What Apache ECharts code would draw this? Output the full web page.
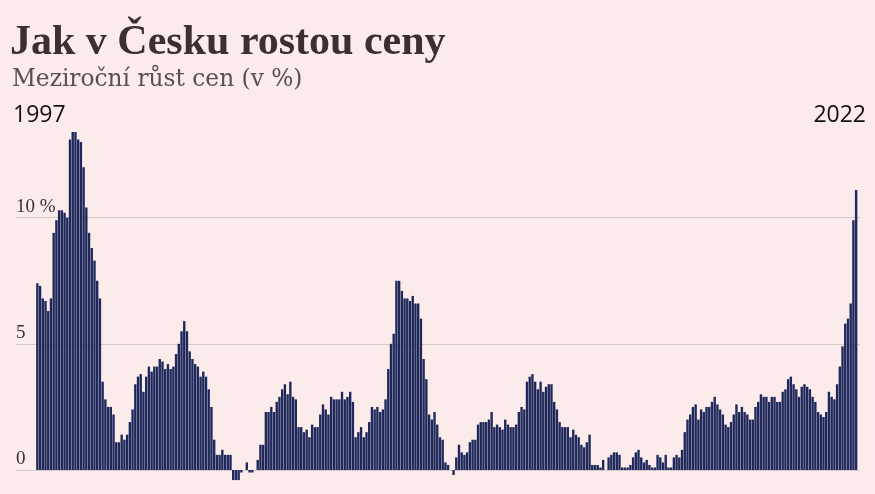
<!DOCTYPE html>
<html>
<head>
<meta charset="utf-8">
<script src="https://cdn.jsdelivr.net/npm/echarts@6/dist/echarts.min.js"></script>
<style>
html,body{margin:0;padding:0;background:#fcebeb;}
#c{width:875px;height:494px;}
</style>
</head>
<body>
<div id="c"></div>
<script>
// Year-on-year consumer price growth (%), monthly, Jan 1997 – Feb 2022
var v1997 = [7.4, 7.3, 6.8, 6.7, 6.3, 6.8, 9.4, 9.9, 10.3, 10.3, 10.2, 10.0];
var v1998 = [13.1, 13.4, 13.4, 13.1, 13.0, 12.0, 10.4, 9.4, 8.8, 8.3, 7.5, 6.8];
var v1999 = [3.5, 2.8, 2.5, 2.5, 2.2, 1.1, 1.1, 1.4, 1.2, 1.4, 1.9, 2.4];
var v2000 = [3.4, 3.7, 3.8, 3.1, 3.7, 4.1, 3.9, 4.1, 4.1, 4.4, 4.3, 4.0];
var v2001 = [4.2, 4.0, 4.1, 4.6, 5.0, 5.5, 5.9, 5.5, 4.7, 4.4, 4.2, 4.1];
var v2002 = [3.7, 3.9, 3.7, 3.2, 2.5, 1.2, 0.6, 0.6, 0.8, 0.6, 0.6, 0.6];
var v2003 = [-0.4, -0.4, -0.4, -0.1, 0.0, 0.3, -0.1, -0.1, 0.0, 0.4, 1.0, 1.0];
var v2004 = [2.3, 2.3, 2.5, 2.3, 2.7, 2.9, 3.2, 3.4, 3.0, 3.5, 2.9, 2.8];
var v2005 = [1.7, 1.7, 1.5, 1.6, 1.3, 1.8, 1.7, 1.7, 2.2, 2.6, 2.4, 2.2];
var v2006 = [2.9, 2.8, 2.8, 2.8, 3.1, 2.8, 2.9, 3.1, 2.7, 1.3, 1.5, 1.7];
var v2007 = [1.3, 1.5, 1.9, 2.5, 2.4, 2.5, 2.3, 2.4, 2.8, 4.0, 5.0, 5.4];
var v2008 = [7.5, 7.5, 7.1, 6.8, 6.8, 6.7, 6.9, 6.6, 6.6, 6.0, 4.4, 3.6];
var v2009 = [2.2, 2.0, 2.3, 1.8, 1.3, 1.2, 0.3, 0.2, 0.0, -0.2, 0.5, 1.0];
var v2010 = [0.7, 0.6, 0.7, 1.1, 1.2, 1.2, 1.8, 1.9, 1.9, 1.9, 2.0, 2.3];
var v2011 = [1.7, 1.8, 1.7, 1.6, 2.0, 1.8, 1.7, 1.7, 1.8, 2.3, 2.5, 2.4];
var v2012 = [3.5, 3.7, 3.8, 3.5, 3.2, 3.5, 3.1, 3.3, 3.4, 3.4, 2.7, 2.4];
var v2013 = [1.9, 1.7, 1.7, 1.7, 1.3, 1.6, 1.4, 1.3, 1.0, 0.9, 1.1, 1.4];
var v2014 = [0.2, 0.2, 0.2, 0.1, 0.4, 0.0, 0.5, 0.6, 0.7, 0.7, 0.6, 0.1];
var v2015 = [0.1, 0.1, 0.2, 0.5, 0.7, 0.8, 0.5, 0.3, 0.4, 0.2, 0.1, 0.1];
var v2016 = [0.6, 0.5, 0.3, 0.6, 0.1, 0.1, 0.5, 0.6, 0.5, 0.8, 1.5, 2.0];
var v2017 = [2.2, 2.5, 2.6, 2.0, 2.4, 2.3, 2.5, 2.5, 2.7, 2.9, 2.6, 2.4];
var v2018 = [2.2, 1.8, 1.7, 1.9, 2.2, 2.6, 2.3, 2.5, 2.3, 2.2, 2.0, 2.0];
var v2019 = [2.5, 2.7, 3.0, 2.9, 2.9, 2.7, 2.9, 2.9, 2.7, 2.7, 3.1, 3.2];
var v2020 = [3.6, 3.7, 3.4, 3.2, 2.9, 3.3, 3.4, 3.3, 3.2, 2.9, 2.7, 2.3];
var v2021 = [2.2, 2.1, 2.3, 3.1, 2.9, 2.8, 3.4, 4.1, 4.9, 5.8, 6.0, 6.6];
var v2022 = [9.9, 11.1];

var years = [1997,1998,1999,2000,2001,2002,2003,2004,2005,2006,2007,2008,2009,2010,2011,2012,2013,2014,2015,2016,2017,2018,2019,2020,2021,2022];
var yearValues = [v1997,v1998,v1999,v2000,v2001,v2002,v2003,v2004,v2005,v2006,v2007,v2008,v2009,v2010,v2011,v2012,v2013,v2014,v2015,v2016,v2017,v2018,v2019,v2020,v2021,v2022];

var tickValues = [0, 5, 10];
var tickLabels = ['0', '5', '10 %'];
var startLabel = '1997';
var endLabel = '2022';
var titleText = 'Jak v Česku rostou ceny';
var subtitleText = 'Meziroční růst cen (v %)';

var categories = [];
var values = [];
for (var y = 0; y < years.length; y++) {
  for (var m = 0; m < yearValues[y].length; m++) {
    categories.push(years[y] + '-' + (m + 1 < 10 ? '0' : '') + (m + 1));
    values.push(yearValues[y][m]);
  }
}

var pxPerUnit = 25.23;
var yMax = 15;
var gridTop = 470 - yMax * pxPerUnit;
var gridLinesHeight = yMax * pxPerUnit;
var barMin = -0.8;
var barHeight = (yMax - barMin) * pxPerUnit;

var chart = echarts.init(document.getElementById('c'), null, {renderer: 'canvas'});
chart.setOption({
  backgroundColor: '#fcebeb',
  animation: false,
  title: [
    {text: titleText, left: 10, top: 22, padding: 0,
     textStyle: {fontFamily: 'Liberation Serif', fontWeight: 'bold', fontSize: 42, color: '#3b2f2f'}},
    {text: subtitleText, left: 12, top: 68, padding: 0,
     textStyle: {fontFamily: 'DejaVu Serif', fontWeight: 'normal', fontSize: 23.3, color: '#5a5050'}},
    {text: startLabel, left: 13, top: 104, padding: 0,
     textStyle: {fontFamily: 'Open Sans', fontWeight: 'normal', fontSize: 23, color: '#111111'}},
    {text: endLabel, right: 9, top: 104, padding: 0,
     textStyle: {fontFamily: 'Open Sans', fontWeight: 'normal', fontSize: 23, color: '#111111'}}
  ],
  grid: [
    {left: 16, right: 15, top: gridTop, height: gridLinesHeight},
    {left: 36, right: 17.5, top: gridTop, height: barHeight}
  ],
  xAxis: [
    {gridIndex: 0, type: 'value', min: 0, max: 1, show: false},
    {gridIndex: 1, type: 'category', data: categories, show: false}
  ],
  yAxis: [
    {gridIndex: 0, type: 'value', min: 0, max: yMax, interval: 5,
     axisLine: {show: false}, axisTick: {show: false},
     splitLine: {show: true, showMinLine: true, showMaxLine: false,
                 lineStyle: {color: '#d5c8cb', width: 1}},
     axisLabel: {inside: true, margin: 0, verticalAlign: 'bottom', align: 'left',
                 showMinLabel: true, showMaxLabel: false, padding: [0, 0, 1, 0],
                 fontFamily: 'Liberation Serif', fontSize: 19, color: '#333333',
                 formatter: function (val) {
                   var i = tickValues.indexOf(val);
                   return i >= 0 ? tickLabels[i] : '';
                 }}},
    {gridIndex: 1, type: 'value', min: barMin, max: yMax, show: false}
  ],
  series: [{
    type: 'bar',
    xAxisIndex: 1, yAxisIndex: 1,
    data: values,
    barCategoryGap: '12%',
    itemStyle: {color: '#1f285b'}
  }]
});
</script>
</body>
</html>
